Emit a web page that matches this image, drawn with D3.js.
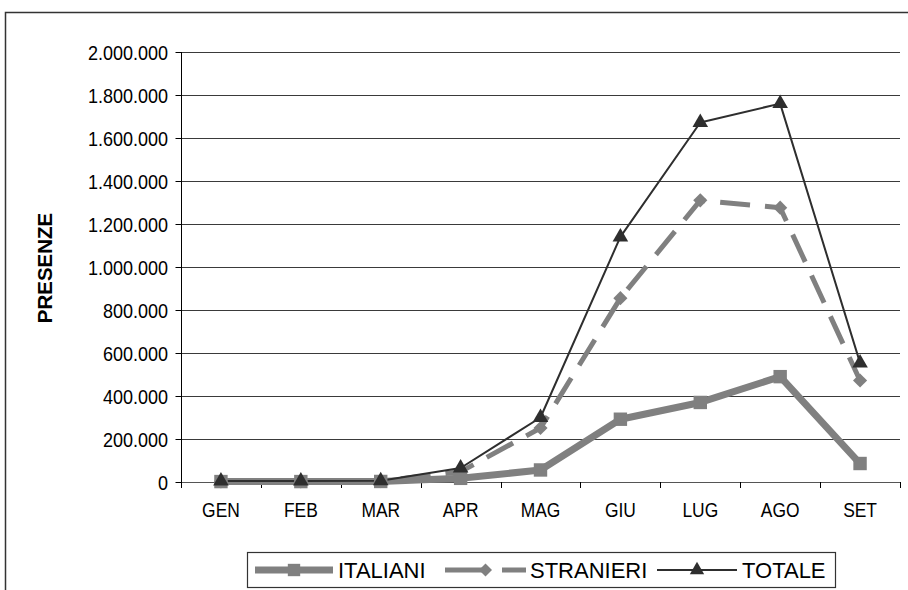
<!DOCTYPE html>
<html><head><meta charset="utf-8">
<script src="https://cdn.jsdelivr.net/npm/d3@7"></script>
<style>body{margin:0;background:#fff}svg{display:block}text{font-family:"Liberation Sans",Arial,sans-serif}</style>
</head><body><svg id="c" width="908" height="590"></svg>
<script>
const months = ["GEN","FEB","MAR","APR","MAG","GIU","LUG","AGO","SET"];
const italiani = [2000, 2000, 2500, 17000, 56000, 292000, 370000, 490000, 86000];
const stranieri = [3000, 3000, 3500, 48000, 251000, 855000, 1310000, 1276000, 472000];
const totale = [5000, 5000, 6000, 65000, 300000, 1140000, 1672000, 1760000, 554000];
const yTicks = [0, 200000, 400000, 600000, 800000, 1000000, 1200000, 1400000, 1600000, 1800000, 2000000];
const seriesNames = ["ITALIANI","STRANIERI","TOTALE"];

const svg = d3.select("#c");
const FONT = "Liberation Sans, Arial, sans-serif";
function condense(sel, r){
  sel.each(function(){ const w = this.getComputedTextLength(); d3.select(this).attr("textLength", w*r).attr("lengthAdjust","spacingAndGlyphs"); });
}
// outer frame (cut off at right and bottom)
svg.append("path").attr("d","M5.5,590 V12.5 H908").attr("fill","none").attr("stroke","#333").attr("stroke-width",1.5);

const x = d3.scaleBand().domain(months).range([181, 900]);
const y = d3.scaleLinear().domain([0, 2000000]).range([482, 52]);
const fmt = v => d3.format(",")(v).replace(/,/g, ".");

// gridlines
svg.append("g").selectAll("line").data(yTicks.slice(1)).join("line")
  .attr("x1",181).attr("x2",900).attr("y1",d=>Math.round(y(d))+0.5).attr("y2",d=>Math.round(y(d))+0.5)
  .attr("stroke","#3a3a3a").attr("stroke-width",1);

// y axis
const ya = svg.append("g").attr("transform","translate(181.5,0)").call(d3.axisLeft(y).tickValues(yTicks).tickFormat(fmt).tickSize(6).tickPadding(7.5));
ya.select(".domain").attr("stroke","#000").attr("d","M0,52V482");
ya.selectAll(".tick line").attr("stroke","#000");
ya.selectAll("text").attr("font-size",20).attr("fill","#000").attr("font-family",FONT).attr("dy","0.36em").call(condense, 0.9);

// x axis
const xa = svg.append("g").attr("transform","translate(0,482.5)").call(d3.axisBottom(x).tickSize(0).tickPadding(20));
xa.select(".domain").attr("stroke","#555").attr("d","M181,0H900");
xa.selectAll("text").attr("font-size",20).attr("fill","#000").attr("font-family",FONT).call(condense, 0.87);
svg.append("g").selectAll("line").data(months.map(m=>x(m)+x.bandwidth()).concat([181]))
  .join("line").attr("x1",d=>Math.round(d)+0.5).attr("x2",d=>Math.round(d)+0.5).attr("y1",482).attr("y2",488)
  .attr("stroke","#000");

// y title
svg.append("text").attr("transform","translate(52,268) rotate(-90)").attr("text-anchor","middle")
  .attr("font-size",20.5).attr("font-weight","bold").text("PRESENZE");

const cx = m => x(m) + x.bandwidth()/2;
const line = d3.line().x((d,i)=>cx(months[i])).y(d=>y(d));

const styles = {
  ITALIANI: {data: italiani, color:"#808080", width:7, dash:null, marker:d3.symbolSquare, size:180, rot:0},
  STRANIERI:{data: stranieri, color:"#808080", width:5, dash:"30,15", marker:d3.symbolSquare, size:100, rot:45},
  TOTALE:   {data: totale, color:"#2e2e2e", width:2, dash:null, marker:d3.symbolTriangle, size:105, rot:0}
};

seriesNames.forEach(n=>{
  const s = styles[n];
  svg.append("path").datum(s.data).attr("d",line).attr("fill","none").attr("stroke",s.color)
    .attr("stroke-width",s.width).attr("stroke-dasharray",s.dash).attr("stroke-linejoin","round");
});
seriesNames.forEach(n=>{
  const s = styles[n];
  svg.append("g").selectAll("path").data(s.data).join("path")
    .attr("transform",(d,i)=>`translate(${cx(months[i])},${y(d)}) rotate(${s.rot})`)
    .attr("d",d3.symbol(s.marker, s.size)).attr("fill",s.color);
});

// legend
const lg = svg.append("g");
lg.append("rect").attr("x",247.5).attr("y",552.5).attr("width",588).attr("height",35).attr("fill","#fff").attr("stroke","#333").attr("stroke-width",1.2);
const legendPos = [{x1:255,x2:333,tx:338,dash:null},{x1:445,x2:526,tx:530,dash:"42,15,24"},{x1:657,x2:737,tx:742,dash:null}];
seriesNames.forEach((n,i)=>{
  const s = styles[n], p = legendPos[i], ly = 570;
  lg.append("line").attr("x1",p.x1).attr("x2",p.x2).attr("y1",ly).attr("y2",ly).attr("stroke",s.color)
    .attr("stroke-width",s.width).attr("stroke-dasharray", p.dash);
  lg.append("path").attr("transform",`translate(${(p.x1+p.x2)/2},${ly}) rotate(${s.rot})`).attr("d",d3.symbol(s.marker, s.size*0.85)).attr("fill",s.color);
  lg.append("text").attr("x",p.tx).attr("y",ly+8).attr("font-size",22).text(n);
});
</script></body></html>
